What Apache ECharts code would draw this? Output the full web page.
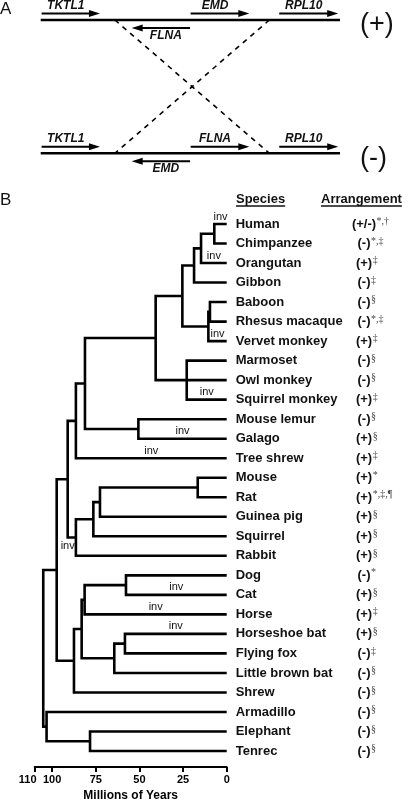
<!DOCTYPE html>
<html><head><meta charset="utf-8">
<script src="https://cdn.jsdelivr.net/npm/echarts@6/dist/echarts.min.js"></script>
<style>html,body{margin:0;padding:0;background:#fff}#c{width:409px;height:799px}</style>
</head><body><div id="c"></div>
<script>
// ---------- Panel B data ----------
const species = ['Human','Chimpanzee','Orangutan','Gibbon','Baboon','Rhesus macaque','Vervet monkey','Marmoset','Owl monkey','Squirrel monkey','Mouse lemur','Galago','Tree shrew','Mouse','Rat','Guinea pig','Squirrel','Rabbit','Dog','Cat','Horse','Horseshoe bat','Flying fox','Little brown bat','Shrew','Armadillo','Elephant','Tenrec'];
const arrangement = ['+/-','-','+','-','-','-','+','-','-','+','-','+','+','+','+','+','+','+','-','+','+','+','-','-','-','-','-','-'];
const footnotes = ['*,\u2020','*,\u2021','\u2021','\u2021','\u00a7','*,\u2021','\u2021','\u00a7','\u00a7','\u2021','\u00a7','\u00a7','\u2021','*','*,\u2021,\u00b6','\u00a7','\u00a7','\u00a7','*','\u00a7','\u2021','\u00a7','\u2021','\u00a7','\u00a7','\u00a7','\u00a7','\u00a7'];
// internal nodes (children listed before parents), ages in millions of years
const cladeNames = ['HC','HCO','Hominoidea','BR','Cercopithecidae','Catarrhini','Platyrrhini','Anthropoidea','Strepsirrhini','Primates','Euarchonta','Muridae','MRG','Rodentia','Glires','Euarchontoglires','Carnivora','CarnHorse','Pteropodidae','Chiroptera','Scrotifera','Laurasiatheria','Boreoeutheria','Afrotheria','Atlantogenata','Eutheria'];
const cladeAges = [7.1,14.7,18.7,9.6,10.5,25.4,22.9,40.7,50.6,81.2,86.4,16.6,72.6,76.4,86.4,91.1,57.7,81.4,58.3,64.4,83.1,87.5,97.4,78.3,103.2,105.1];
const cladeChildren = [
  ['Human','Chimpanzee'],['HC','Orangutan'],['HCO','Gibbon'],
  ['Baboon','Rhesus macaque'],['BR','Vervet monkey'],['Hominoidea','Cercopithecidae'],
  ['Marmoset','Owl monkey','Squirrel monkey'],['Catarrhini','Platyrrhini'],
  ['Mouse lemur','Galago'],['Anthropoidea','Strepsirrhini'],['Primates','Tree shrew'],
  ['Mouse','Rat'],['Muridae','Guinea pig'],['MRG','Squirrel'],['Rodentia','Rabbit'],
  ['Euarchonta','Glires'],['Dog','Cat'],['Carnivora','Horse'],
  ['Horseshoe bat','Flying fox'],['Pteropodidae','Little brown bat'],['CarnHorse','Chiroptera'],
  ['Scrotifera','Shrew'],['Euarchontoglires','Laurasiatheria'],['Elephant','Tenrec'],
  ['Armadillo','Afrotheria'],['Boreoeutheria','Atlantogenata']
];
const invBranches = ['Human','Orangutan','Vervet monkey','Squirrel monkey','Galago','Tree shrew','Glires','Cat','Horse','Horseshoe bat'];
const invSide = ['above','above','above','above','above','above','below','above','above','above'];
const timeTicks = [0,25,50,75,100,110];

// ---------- Panel A data ----------
const arrangementRows = ['(+)','(-)'];
const geneLabels = ['TKTL1','FLNA','EMD','RPL10','TKTL1','EMD','FLNA','RPL10'];
const geneRow    = [0,0,0,0,1,1,1,1];
const geneTail   = [0.3,49.9,50.1,79.7,0.3,49.9,50.1,79.7];
const geneHead   = [19.8,30.4,69.7,99.4,19.8,30.4,69.7,99.4];
const chromSpan  = [0,100];
const breakpoints = [24.8,76.4];

// ---------- layout from data ----------
const yOf = {}, ageOf = {}, parentOf = {};
species.forEach((s,i)=>{ yOf[s]=i; ageOf[s]=0; });
cladeNames.forEach((n,i)=>{
  const ch = cladeChildren[i];
  yOf[n] = (yOf[ch[0]] + yOf[ch[ch.length-1]]) / 2;
  ageOf[n] = cladeAges[i];
  ch.forEach(c => parentOf[c] = n);
});

const SANS = '"Liberation Sans", Arial, sans-serif';
const FB13 = 'bold 13px ' + SANS;
const FN = '10px "Liberation Serif", "Times New Roman", serif';
const cv = document.createElement('canvas').getContext('2d');
function tw(t,f){ cv.font=f; return cv.measureText(t).width; }

const chart = echarts.init(document.getElementById('c'), null, {renderer:'canvas'});
const LW = 2.6;

const option = {
  animation: false,
  backgroundColor: '#fff',
  grid: [
    {left: 34.7, right: 182.3, top: 224, bottom: 48, outerBoundsMode: 'none'},
    {left: 40.7, right: 69, top: 20, height: 133.3, outerBoundsMode: 'none'}
  ],
  xAxis: [
    {gridIndex:0, type:'value', inverse:true, min:0, max:110, position:'bottom', offset:16,
     splitLine:{show:false},
     axisLine:{show:true, onZero:false, lineStyle:{color:'#000', width:2}},
     axisTick:{show:true, customValues: timeTicks, length:5, lineStyle:{color:'#000', width:2}},
     axisLabel:{customValues: timeTicks, margin:7, color:'#000', fontFamily:SANS, fontWeight:'bold', fontSize:11,
       formatter: v => v===110 ? '{l|110}' : String(v),
       rich:{l:{padding:[0,14,0,0], fontFamily:SANS, fontWeight:'bold', fontSize:11, color:'#000'}}},
     name:'Millions of Years', nameLocation:'middle', nameGap:21,
     nameTextStyle:{color:'#000', fontFamily:SANS, fontWeight:'bold', fontSize:12}},
    {gridIndex:1, type:'value', min:0, max:100, show:false}
  ],
  yAxis: [
    {gridIndex:0, type:'category', data:species, inverse:true, boundaryGap:false, position:'right',
     axisLine:{show:false}, axisTick:{show:false}, splitLine:{show:false},
     axisLabel:{margin:9, align:'left', color:'#111', fontFamily:SANS, fontWeight:'bold', fontSize:13}},
    {gridIndex:0, type:'value', min:0, max:species.length-1, inverse:true, show:false},
    {gridIndex:1, type:'category', data:arrangementRows, inverse:true, boundaryGap:false, show:false}
  ],
  graphic: [
    {type:'text', left:0, top:1, style:{text:'A', font:'17px '+SANS, fill:'#111'}},
    {type:'text', left:0, top:192, style:{text:'B', font:'17px '+SANS, fill:'#111'}},
    {type:'text', left:236, top:193, style:{text:'Species', font:FB13, fill:'#111'}},
    {type:'line', shape:{x1:236, y1:206, x2:236+tw('Species',FB13), y2:206}, style:{stroke:'#111', lineWidth:1.3}},
    {type:'text', left:321, top:193, style:{text:'Arrangement', font:FB13, fill:'#111'}},
    {type:'line', shape:{x1:321, y1:206, x2:321+tw('Arrangement',FB13), y2:206}, style:{stroke:'#111', lineWidth:1.3}}
  ],
  series: [
    // tree
    {type:'custom', xAxisIndex:0, yAxisIndex:1, clip:false, silent:true,
     data: cladeNames.map((n,i)=>[cladeAges[i], yOf[n]]),
     encode:{x:0, y:1},
     renderItem:(params, api)=>{
       const i = params.dataIndex, age = cladeAges[i], ch = cladeChildren[i];
       const first = ch[0], last = ch[ch.length-1];
       const st = {stroke:'#000', lineWidth:LW, fill:null, lineJoin:'miter', lineCap:'butt'};
       const pts = [
         api.coord([ageOf[first], yOf[first]]), api.coord([age, yOf[first]]),
         api.coord([age, yOf[last]]), api.coord([ageOf[last], yOf[last]])
       ];
       const kids = [{type:'polyline', shape:{points:pts}, style:st}];
       ch.slice(1, -1).forEach(c=>{
         const a = api.coord([age, yOf[c]]), b = api.coord([ageOf[c], yOf[c]]);
         kids.push({type:'line', shape:{x1:a[0], y1:a[1], x2:b[0], y2:b[1]}, style:st});
       });
       return {type:'group', children:kids};
     }},
    // inv labels
    {type:'custom', xAxisIndex:0, yAxisIndex:1, clip:false, silent:true,
     data: invBranches.map(b=>[(ageOf[parentOf[b]]+ageOf[b])/2, yOf[b]]),
     encode:{x:0, y:1},
     renderItem:(params, api)=>{
       const b = invBranches[params.dataIndex];
       const below = invSide[params.dataIndex]==='below';
       const p = below ? api.coord([ageOf[parentOf[b]], yOf[b]]) : api.coord([(ageOf[parentOf[b]]+ageOf[b])/2, yOf[b]]);
       return {type:'text', style:{text:'inv', x:p[0], y: below ? p[1]+2.5 : p[1]-2,
         align:'center', textAlign:'center', verticalAlign: below?'top':'bottom', textVerticalAlign: below?'top':'bottom',
         font:'11px '+SANS, fill:'#111'}};
     }},
    // arrangement column
    {type:'custom', xAxisIndex:0, yAxisIndex:1, clip:false, silent:true,
     data: species.map((s,i)=>[0,i]), encode:{x:0, y:1},
     renderItem:(params, api)=>{
       const i = params.dataIndex, p = api.coord([0, i]);
       const cx = p[0] + 137.3, main = '(' + arrangement[i] + ')', w = tw(main, FB13);
       return {type:'group', children:[
         {type:'text', style:{text:main, x:cx, y:p[1], align:'center', textAlign:'center', verticalAlign:'middle', textVerticalAlign:'middle', font:FB13, fill:'#111'}},
         {type:'text', style:{text:footnotes[i], x:cx + w/2 + 0.5, y:p[1]-7.5, align:'left', textAlign:'left', verticalAlign:'top', textVerticalAlign:'top', font:FN, fill:'#444'}}
       ]};
     }},
    // Panel A chromosomes with arrangement labels
    {type:'custom', xAxisIndex:1, yAxisIndex:2, clip:false, silent:true,
     data: arrangementRows.map((r,i)=>[chromSpan[0], i, chromSpan[1]]), encode:{x:0, y:1},
     renderItem:(params, api)=>{
       const a = api.coord([api.value(0), api.value(1)]), b = api.coord([api.value(2), api.value(1)]);
       return {type:'group', children:[
         {type:'line', shape:{x1:a[0], y1:a[1], x2:b[0], y2:b[1]}, style:{stroke:'#000', lineWidth:2.5}},
         {type:'text', style:{text:arrangementRows[params.dataIndex], x:b[0]+20, y:b[1]+5, align:'left', textAlign:'left',
           verticalAlign:'middle', textVerticalAlign:'middle', font:'27px '+SANS, fill:'#111'}}
       ]};
     }},
    // Panel A dashed inversion lines
    {type:'line', xAxisIndex:1, yAxisIndex:2, symbol:'none', silent:true,
     lineStyle:{color:'#000', width:1.6, type:[5,5]},
     data:[[breakpoints[0],0],[breakpoints[1],1]]},
    {type:'line', xAxisIndex:1, yAxisIndex:2, symbol:'none', silent:true,
     lineStyle:{color:'#000', width:1.6, type:[5,5]},
     data:[[breakpoints[1],0],[breakpoints[0],1]]},
    // Panel A gene arrows
    {type:'custom', xAxisIndex:1, yAxisIndex:2, clip:false, silent:true,
     data: geneLabels.map((g,i)=>[geneTail[i], geneRow[i], geneHead[i]]), encode:{x:0, y:1},
     renderItem:(params, api)=>{
       const i = params.dataIndex;
       const t = api.coord([geneTail[i], geneRow[i]]), h = api.coord([geneHead[i], geneRow[i]]);
       const dir = h[0] > t[0] ? 1 : -1;
       const y = t[1] + (dir > 0 ? -6.5 : 8);
       const hx = h[0];
       const lx = (t[0] + h[0]) / 2 - dir * 5;
       const ly = dir > 0 ? y - 8 : y + 7.5;
       return {type:'group', children:[
         {type:'line', shape:{x1:t[0], y1:y, x2:hx - dir*8, y2:y}, style:{stroke:'#000', lineWidth:2}},
         {type:'polygon', shape:{points:[[hx, y],[hx - dir*11, y-3.5],[hx - dir*11, y+3.5]]}, style:{fill:'#000'}},
         {type:'text', style:{text:geneLabels[i], x:lx, y:ly, align:'center', textAlign:'center', verticalAlign:'middle', textVerticalAlign:'middle',
           font:'italic bold 12px '+SANS, fill:'#111'}}
       ]};
     }}
  ]
};
chart.setOption(option);
</script></body></html>
